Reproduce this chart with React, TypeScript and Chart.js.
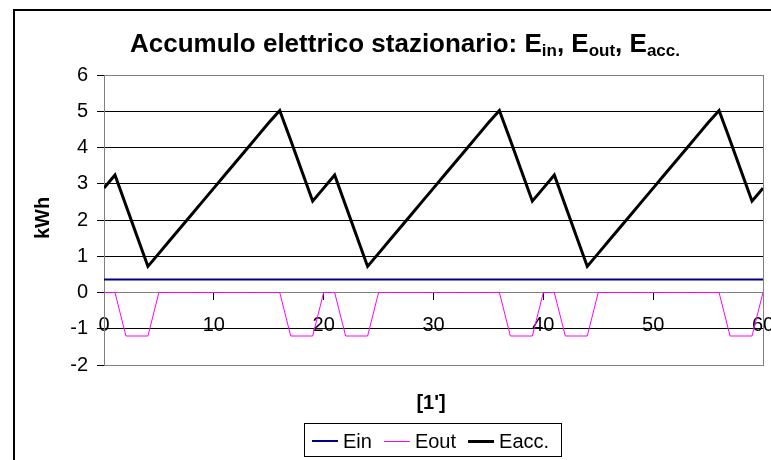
import React, { useEffect, useRef } from 'react';
import { Chart, registerables } from 'chart.js';

Chart.register(...registerables);

const FONT = '"Liberation Sans", Arial, sans-serif';

const minutes = [
  0, 1, 2, 3, 4, 5, 6, 7, 8, 9, 10, 11, 12, 13, 14, 15, 16, 17, 18, 19, 20,
  21, 22, 23, 24, 25, 26, 27, 28, 29, 30, 31, 32, 33, 34, 35, 36, 37, 38, 39, 40,
  41, 42, 43, 44, 45, 46, 47, 48, 49, 50, 51, 52, 53, 54, 55, 56, 57, 58, 59, 60,
];

const ein = [
  0.36, 0.36, 0.36, 0.36, 0.36, 0.36, 0.36, 0.36, 0.36, 0.36, 0.36,
  0.36, 0.36, 0.36, 0.36, 0.36, 0.36, 0.36, 0.36, 0.36, 0.36,
  0.36, 0.36, 0.36, 0.36, 0.36, 0.36, 0.36, 0.36, 0.36, 0.36,
  0.36, 0.36, 0.36, 0.36, 0.36, 0.36, 0.36, 0.36, 0.36, 0.36,
  0.36, 0.36, 0.36, 0.36, 0.36, 0.36, 0.36, 0.36, 0.36, 0.36,
  0.36, 0.36, 0.36, 0.36, 0.36, 0.36, 0.36, 0.36, 0.36, 0.36,
];

const eout = [
  0, 0, -1.2, -1.2, -1.2, 0, 0, 0, 0, 0, 0,
  0, 0, 0, 0, 0, 0, -1.2, -1.2, -1.2, 0,
  0, -1.2, -1.2, -1.2, 0, 0, 0, 0, 0, 0,
  0, 0, 0, 0, 0, 0, -1.2, -1.2, -1.2, 0,
  0, -1.2, -1.2, -1.2, 0, 0, 0, 0, 0, 0,
  0, 0, 0, 0, 0, 0, -1.2, -1.2, -1.2, 0,
];

const eacc = [
  2.88, 3.24, 2.4, 1.56, 0.72, 1.08, 1.44, 1.8, 2.16, 2.52, 2.88,
  3.24, 3.6, 3.96, 4.32, 4.68, 5.02, 4.2, 3.36, 2.52, 2.88,
  3.24, 2.4, 1.56, 0.72, 1.08, 1.44, 1.8, 2.16, 2.52, 2.88,
  3.24, 3.6, 3.96, 4.32, 4.68, 5.02, 4.2, 3.36, 2.52, 2.88,
  3.24, 2.4, 1.56, 0.72, 1.08, 1.44, 1.8, 2.16, 2.52, 2.88,
  3.24, 3.6, 3.96, 4.32, 4.68, 5.02, 4.2, 3.36, 2.52, 2.88,
];

const seriesNames = ['Ein', 'Eout', 'Eacc.'];
const seriesColors = ['#000080', '#FF00FF', '#000000'];
const seriesWidths = [2, 1, 3];

const titleParts: [string, boolean][] = [
  ['Accumulo elettrico stazionario: E', false],
  ['in', true],
  [', E', false],
  ['out', true],
  [', E', false],
  ['acc.', true],
];
const yTitle = 'kWh';
const xTitle = "[1']";

const decor = {
  id: 'decor',
  beforeDatasetsDraw(chart: any) {
    const { ctx, chartArea: a } = chart;
    ctx.save();
    ctx.strokeStyle = '#808080';
    ctx.lineWidth = 1;
    ctx.strokeRect(
      Math.round(a.left) + 0.5,
      Math.round(a.top) + 0.5,
      Math.round(a.right - a.left),
      Math.round(a.bottom - a.top)
    );
    ctx.restore();
  },
  afterDraw(chart: any) {
    const { ctx } = chart;
    ctx.save();
    // outer frame
    ctx.strokeStyle = '#000';
    ctx.lineWidth = 2;
    ctx.strokeRect(14, 10, 800, 500);

    // title with subscripts
    const mainFont = `bold 26px ${FONT}`;
    const subFont = `bold 17px ${FONT}`;
    let total = 0;
    for (const [t, sub] of titleParts) {
      ctx.font = sub ? subFont : mainFont;
      total += ctx.measureText(t).width;
    }
    let x = 405 - total / 2;
    ctx.fillStyle = '#000';
    ctx.textBaseline = 'alphabetic';
    ctx.textAlign = 'left';
    for (const [t, sub] of titleParts) {
      ctx.font = sub ? subFont : mainFont;
      ctx.fillText(t, x, sub ? 56 : 52);
      x += ctx.measureText(t).width;
    }

    // y title
    ctx.font = `bold 20px ${FONT}`;
    ctx.textAlign = 'center';
    ctx.textBaseline = 'middle';
    ctx.save();
    ctx.translate(43, 218);
    ctx.rotate(-Math.PI / 2);
    ctx.fillText(yTitle, 0, 0);
    ctx.restore();

    // x title
    ctx.fillText(xTitle, 431, 403);

    // legend
    ctx.strokeStyle = '#000';
    ctx.lineWidth = 1;
    ctx.strokeRect(304.5, 423.5, 257, 33);
    ctx.font = `20px ${FONT}`;
    ctx.textAlign = 'left';
    ctx.textBaseline = 'middle';
    let lx = 312;
    const ly = 441;
    chart.data.datasets.forEach((ds: any) => {
      ctx.strokeStyle = ds.borderColor;
      ctx.lineWidth = ds.borderWidth;
      ctx.beginPath();
      const yy = ds.borderWidth % 2 === 1 ? ly + 0.5 : ly;
      ctx.moveTo(lx, yy);
      ctx.lineTo(lx + 26, yy);
      ctx.stroke();
      lx += 31;
      ctx.fillStyle = '#000';
      ctx.fillText(ds.label, lx, ly + 1);
      lx += ctx.measureText(ds.label).width + 12;
    });
    ctx.restore();
  },
};

export default function App() {
  const ref = useRef<HTMLCanvasElement>(null);
  useEffect(() => {
    document.body.style.margin = '0';
    const canvas = ref.current!;
    const series = [ein, eout, eacc];
    const chart = new Chart(canvas, {
      type: 'line',
      data: {
        labels: minutes,
        datasets: series.map((d, i) => ({
          label: seriesNames[i],
          data: d,
          borderColor: seriesColors[i],
          backgroundColor: seriesColors[i],
          borderWidth: seriesWidths[i],
          pointRadius: 0,
          tension: 0,
          fill: false,
          order: 3 - i,
        })),
      },
      options: {
        responsive: false,
        animation: false,
        layout: { padding: { left: 0, right: 8, top: 75, bottom: 95 } },
        plugins: {
          legend: { display: false },
          title: { display: false },
          tooltip: { enabled: false },
        },
        scales: {
          x: {
            type: 'linear',
            position: { y: 0 } as any,
            min: 0,
            max: 60,
            afterFit(scale: any) {
              scale.height = 0;
              scale.paddingLeft = 0;
              scale.paddingRight = 0;
            },
            ticks: {
              stepSize: 10,
              color: '#000',
              font: { family: FONT, size: 20 },
              padding: 14,
              maxRotation: 0,
              autoSkip: false,
            },
            grid: {
              drawOnChartArea: false,
              drawTicks: true,
              tickLength: 7,
              tickColor: '#000',
            },
            border: { display: true, color: '#808080', width: 1 },
          },
          y: {
            type: 'linear',
            position: 'left',
            min: -2,
            max: 6,
            afterFit(scale: any) {
              scale.width = 104;
              scale.paddingTop = 0;
              scale.paddingBottom = 0;
            },
            ticks: {
              stepSize: 1,
              color: '#000',
              font: { family: FONT, size: 20 },
              padding: 9,
            },
            grid: {
              color: '#000',
              lineWidth: 1,
              drawTicks: true,
              tickLength: 7,
              tickColor: '#000',
            },
            border: { display: true, color: '#808080', width: 1 },
          },
        },
      },
      plugins: [decor],
    });
    return () => chart.destroy();
  }, []);
  return (
    <canvas
      ref={ref}
      width={771}
      height={460}
      style={{ display: 'block', width: 771, height: 460 }}
    />
  );
}
